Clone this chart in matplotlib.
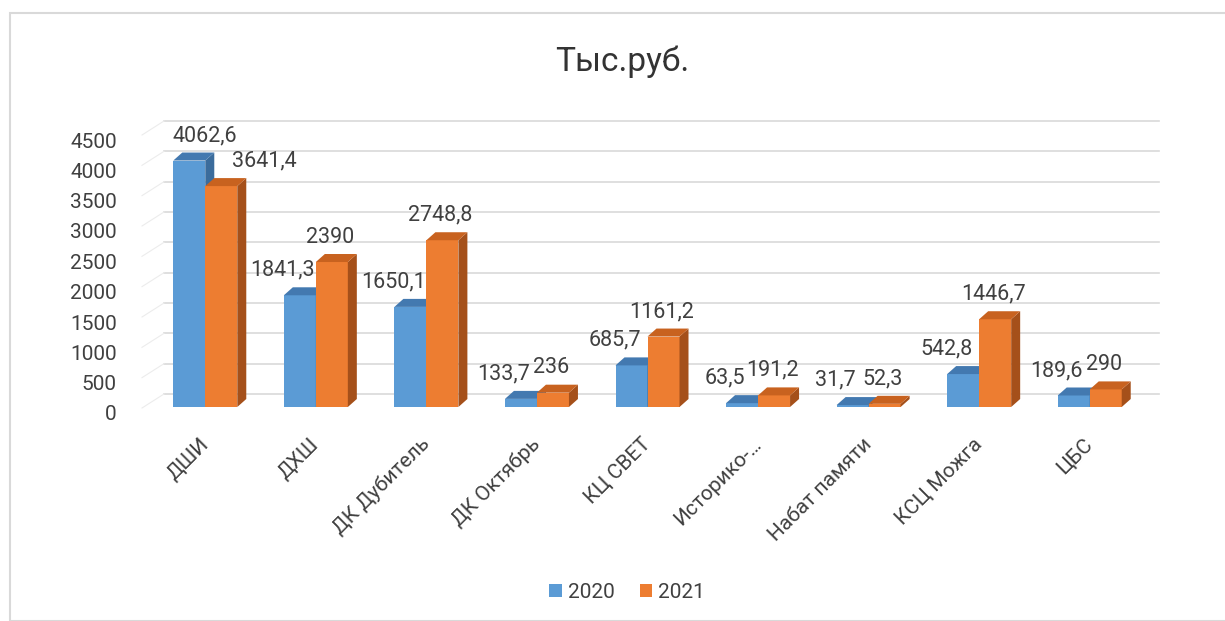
import numpy as np
import matplotlib
matplotlib.use("Agg")
import matplotlib.pyplot as plt
from matplotlib.patches import Polygon, Patch, Rectangle
from matplotlib.transforms import ScaledTranslation

plt.rcParams['font.family'] = ['Roboto', 'DejaVu Sans']

# data
categories = ['ДШИ', 'ДХШ', 'ДК Дубитель', 'ДК Октябрь', 'КЦ СВЕТ',
              'Историко-…', 'Набат памяти', 'КСЦ Можга', 'ЦБС']
years = ['2020', '2021']
v2020 = [4062.6, 1841.3, 1650.1, 133.7, 685.7, 63.5, 31.7, 542.8, 189.6]
v2021 = [3641.4, 2390, 2748.8, 236, 1161.2, 191.2, 52.3, 1446.7, 290]
labels2020 = ['4062,6', '1841,3', '1650,1', '133,7', '685,7', '63,5', '31,7', '542,8', '189,6']
labels2021 = ['3641,4', '2390', '2748,8', '236', '1161,2', '191,2', '52,3', '1446,7', '290']

front = ['#5B9BD5', '#ED7D31']
top_c = ['#4379B0', '#C8621F']
side_c = ['#3B6C9C', '#A5501A']
txt = '#404040'

W, H = 1225, 621
fig = plt.figure(figsize=(W / 100, H / 100), dpi=100)
fig.patches.append(Rectangle((10 / W, 0), 1.2, 1 - 13 / H, transform=fig.transFigure,
                             fill=False, edgecolor='#d9d9d9', lw=1.5))

# axes in pixel layout (front plane)
left, right, ytop, ybot = 150, 1145, 134, 407
ax = fig.add_axes([left / W, 1 - ybot / H, (right - left) / W, (ybot - ytop) / H])
n = len(categories)
ax.set_xlim(-0.5, n - 0.5)
ax.set_ylim(0, 4500)
for s in ax.spines.values():
    s.set_visible(False)

pxx = (right - left) / n          # pixels per x unit
pxy = (ybot - ytop) / 4500        # pixels per y unit
def px2x(p):
    return p / pxx
def px2y(p):
    return p / pxy

# back wall gridlines and side-wall lines
wdx, wdy = px2x(14), px2y(13)
for v in range(0, 4501, 500):
    ax.plot([-0.5 + wdx, n - 0.5 + wdx], [v + wdy, v + wdy], color='#d9d9d9',
            lw=1.2, clip_on=False, zorder=1)
    ax.plot([-0.5 - px2x(8), -0.5 + wdx], [v - px2y(1), v + wdy], color='#ececec',
            lw=0.8, clip_on=False, zorder=1)

ax.set_xticks([])
ax.set_yticks(range(0, 4501, 500))
ax.set_yticklabels([str(v) for v in range(0, 4501, 500)], fontsize=15, color=txt)
ax.tick_params(axis='y', length=0, pad=24)
off = ScaledTranslation(0, -6 / 100, fig.dpi_scale_trans)
for lab in ax.get_yticklabels():
    lab.set_transform(lab.get_transform() + off)

# 3D-looking bars
bw = px2x(32)
ddx, ddy = px2x(9), px2y(8)
x = np.arange(n)
series = [v2020, v2021]
series_labels = [labels2020, labels2021]
label_dx = [-17, -2]
nudge = {(0, 0): 16, (0, 1): 43}
for k, vals in enumerate(series):
    for i, v in enumerate(vals):
        x0 = x[i] - bw + k * bw
        x1 = x0 + bw
        ax.add_patch(Rectangle((x0, 0), bw, v, facecolor=front[k], edgecolor='none', zorder=3 + k))
        ax.add_patch(Polygon([(x1, 0), (x1, v), (x1 + ddx, v + ddy), (x1 + ddx, ddy)],
                             closed=True, facecolor=side_c[k], edgecolor='none',
                             zorder=3 + k, clip_on=False))
        ax.add_patch(Polygon([(x0, v), (x1, v), (x1 + ddx, v + ddy), (x0 + ddx, v + ddy)],
                             closed=True, facecolor=top_c[k], edgecolor='none',
                             zorder=3 + k, clip_on=False))
        dx = nudge.get((i, k), label_dx[k])
        ax.text(x0 + bw / 2 + px2x(dx), v + px2y(25), series_labels[k][i],
                ha='center', va='center', fontsize=15.5, color=txt, zorder=10, clip_on=False)

# category labels
for i, c in enumerate(categories):
    ax.annotate(c, xy=(x[i], 0), xytext=(0, -34), textcoords='offset pixels',
                rotation=45, ha='right', va='center', rotation_mode='anchor',
                fontsize=15, color=txt, annotation_clip=False)

fig.text(0.508, 1 - 62 / H, 'Тыс.руб.', ha='center', va='center', fontsize=24,
         color='#333333')

handles = [Patch(facecolor=front[k], label=years[k]) for k in range(2)]
fig.legend(handles=handles, loc='center', bbox_to_anchor=(0.512, 1 - 592 / H), ncol=2,
           frameon=False, fontsize=15, handlelength=0.6, handleheight=0.6,
           handletextpad=0.3, columnspacing=1.2, labelcolor=txt)

fig.savefig('out.png', dpi=100)
